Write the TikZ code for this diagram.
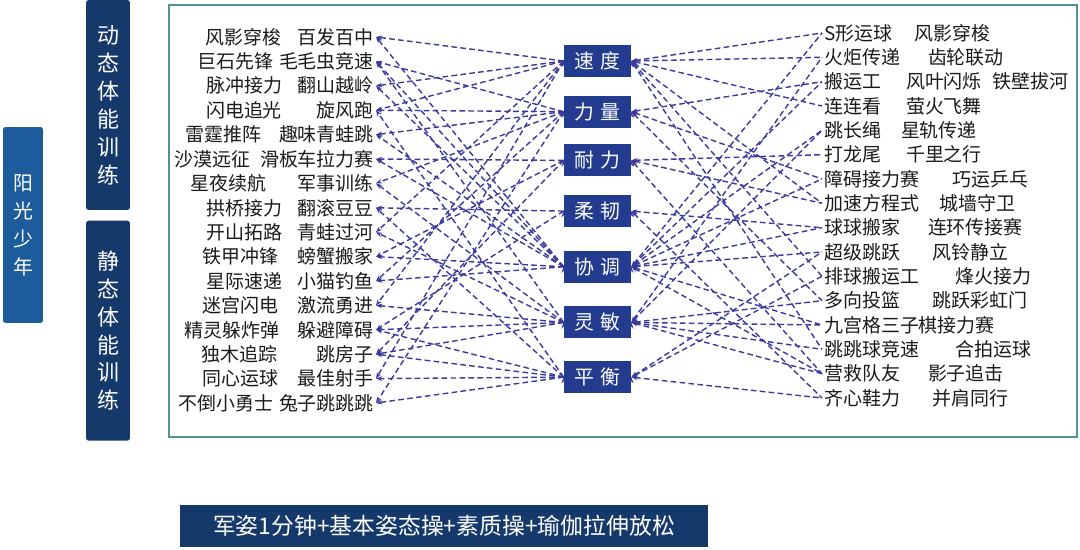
\documentclass[tikz,border=0pt]{standalone}
\usepackage{fontspec}
\setmainfont{Noto Sans CJK SC}
\usetikzlibrary{positioning, arrows.meta}

\definecolor{sunblue}{HTML}{1C5C9C}
\definecolor{navy}{HTML}{16396B}
\definecolor{qblue}{HTML}{233C8F}
\definecolor{frameteal}{HTML}{4E9494}
\definecolor{linkblue}{HTML}{3A3A9E}
\definecolor{ink}{HTML}{1A1A1A}

\begin{document}
\begin{tikzpicture}[x=0.02cm, y=-0.02cm]
    \tikzstyle{side} = [fill=navy, text=white, rounded corners=1.5pt, align=center, inner sep=0pt, minimum width=0.88cm, font=\fontsize{12.5}{15.9}\selectfont];
    \tikzstyle{quality} = [fill=qblue, text=white, minimum width=1.34cm, minimum height=0.64cm, inner sep=0pt, font=\fontsize{11.3}{13}\selectfont];
    \tikzstyle{litem} = [anchor=east, inner sep=1pt, text=ink, font=\fontsize{10.8}{12}\selectfont];
    \tikzstyle{ritem} = [anchor=west, inner sep=1pt, text=ink, font=\fontsize{10.8}{12}\selectfont];
    \tikzstyle{link} = [draw=linkblue, dash pattern=on 3.2pt off 1.9pt, line width=0.8pt];

    \useasboundingbox (0,0) rectangle (1080,549);
    \draw[frameteal, line width=1.1pt] (169,5) rectangle (1077,437);

    \node[side, fill=sunblue, minimum width=0.8cm, minimum height=3.92cm, font=\fontsize{11.3}{15.9}\selectfont] (sun) at (23,225) {阳\\光\\少\\年};
    \node[side, minimum height=4.2cm] (dyn) at (108,105) {动\\态\\体\\能\\训\\练};
    \node[side, minimum height=4.4cm, below = 0.2cm of dyn] (sta) {静\\态\\体\\能\\训\\练};

    \node[quality] (sd) at (597.5,61) {速\hspace{0.12cm}度};
    \node[quality, below = 0.36cm of sd] (ll) {力\hspace{0.12cm}量};
    \node[quality, below = 0.32cm of ll] (nl) {耐\hspace{0.12cm}力};
    \node[quality, below = 0.36cm of nl] (rr) {柔\hspace{0.12cm}韧};
    \node[quality, below = 0.46cm of rr] (xt) {协\hspace{0.12cm}调};
    \node[quality, below = 0.46cm of xt] (lm) {灵\hspace{0.12cm}敏};
    \node[quality, below = 0.44cm of lm] (ph) {平\hspace{0.12cm}衡};

    % dynamic and static games
    \node[litem] (L1) at (376,37) {风影穿梭\hspace{0.34cm}百发百中};
    \node[litem] (L2) at (376,61.4) {巨石先锋\hspace{0.12cm}毛毛虫竞速};
    \node[litem] (L3) at (376,85.8) {脉冲接力\hspace{0.32cm}翻山越岭};
    \node[litem] (L4) at (376,110.2) {闪电追光\hspace{0.7cm}旋风跑};
    \node[litem] (L5) at (376,134.6) {雷霆推阵\hspace{0.36cm}趣味青蛙跳};
    \node[litem] (L6) at (376,159) {沙漠远征\hspace{0.2cm}滑板车拉力赛};
    \node[litem] (L7) at (376,183.4) {星夜续航\hspace{0.64cm}军事训练};
    \node[litem] (L8) at (376,207.8) {拱桥接力\hspace{0.32cm}翻滚豆豆};
    \node[litem] (L9) at (376,232.2) {开山拓路\hspace{0.32cm}青蛙过河};
    \node[litem] (L10) at (376,256.6) {铁甲冲锋\hspace{0.4cm}螃蟹搬家};
    \node[litem] (L11) at (376,281) {星际速递\hspace{0.32cm}小猫钓鱼};
    \node[litem] (L12) at (376,305.4) {迷宫闪电\hspace{0.4cm}激流勇进};
    \node[litem] (L13) at (376,329.8) {精灵躲炸弹\hspace{0.38cm}躲避障碍};
    \node[litem] (L14) at (376,354.2) {独木追踪\hspace{0.8cm}跳房子};
    \node[litem] (L15) at (376,378.6) {同心运球\hspace{0.4cm}最佳射手};
    \node[litem] (L16) at (376,403) {不倒小勇士\hspace{0.12cm}兔子跳跳跳};

    \node[ritem] (R1) at (822,33) {S形运球\hspace{0.44cm}风影穿梭};
    \node[ritem] (R2) at (822,57.3) {火炬传递\hspace{0.56cm}齿轮联动};
    \node[ritem] (R3) at (822,81.7) {搬运工\hspace{0.5cm}风叶闪烁\hspace{0.22cm}铁壁拔河};
    \node[ritem] (R4) at (822,106) {连连看\hspace{0.5cm}萤火飞舞};
    \node[ritem] (R5) at (822,130.3) {跳长绳\hspace{0.4cm}星轨传递};
    \node[ritem] (R6) at (822,154.7) {打龙尾\hspace{0.5cm}千里之行};
    \node[ritem] (R7) at (822,179) {障碍接力赛\hspace{0.68cm}巧运乒乓};
    \node[ritem] (R8) at (822,203.3) {加速方程式\hspace{0.42cm}城墙守卫};
    \node[ritem] (R9) at (822,227.7) {球球搬家\hspace{0.56cm}连环传接赛};
    \node[ritem] (R10) at (822,252) {超级跳跃\hspace{0.66cm}风铃静立};
    \node[ritem] (R11) at (822,276.3) {排球搬运工\hspace{0.74cm}烽火接力};
    \node[ritem] (R12) at (822,300.7) {多向投篮\hspace{0.66cm}跳跃彩虹门};
    \node[ritem] (R13) at (822,325) {九宫格三子棋接力赛};
    \node[ritem] (R14) at (822,349.3) {跳跳球竞速\hspace{0.74cm}合拍运球};
    \node[ritem] (R15) at (822,373.7) {营救队友\hspace{0.56cm}影子追击};
    \node[ritem] (R16) at (822,398) {齐心鞋力\hspace{0.66cm}并肩同行};

    \node[fill=navy, text=white, minimum width=10.56cm, minimum height=0.84cm, inner sep=0pt, font=\fontsize{13}{15}\selectfont] (base) at (444,526) {军姿1分钟+基本姿态操+素质操+瑜伽拉伸放松};

    % qualities to the games on the left
    \draw[link, -{Stealth[length=3.5pt, width=2.6pt]}] (sd.west) edge (L1.east) edge (L3.east) edge (L4.east) edge (L9.east) edge (L12.east) edge (L15.east);
    \draw[link, -{Stealth[length=3.5pt, width=2.6pt]}] (ll.west) edge (L2.east) edge (L4.east) edge (L5.east) edge (L7.east) edge (L11.east) edge (L16.east);
    \draw[link, -{Stealth[length=3.5pt, width=2.6pt]}] (nl.west) edge (L6.east) edge (L10.east) edge (L14.east);
    \draw[link, -{Stealth[length=3.5pt, width=2.6pt]}] (rr.west) edge (L8.east) edge (L13.east);
    \draw[link, -{Stealth[length=3.5pt, width=2.6pt]}] (xt.west) edge (L1.east) edge (L2.east) edge (L3.east) edge (L5.east) edge (L6.east) edge (L10.east) edge (L11.east);
    \draw[link, -{Stealth[length=3.5pt, width=2.6pt]}] (lm.west) edge (L2.east) edge (L7.east) edge (L9.east) edge (L12.east) edge (L13.east) edge (L14.east);
    \draw[link, -{Stealth[length=3.5pt, width=2.6pt]}] (ph.west) edge (L4.east) edge (L8.east) edge (L13.east) edge (L14.east) edge (L15.east) edge (L16.east);

    % games on the right to the qualities
    \draw[link, {Stealth[length=3.5pt, width=2.6pt]}-] (sd.east) edge (R1.west) edge (R2.west) edge (R4.west) edge (R8.west) edge (R11.west) edge (R14.west);
    \draw[link, {Stealth[length=3.5pt, width=2.6pt]}-] (ll.east) edge (R3.west) edge (R7.west) edge (R12.west);
    \draw[link, {Stealth[length=3.5pt, width=2.6pt]}-] (nl.east) edge (R6.west) edge (R8.west) edge (R15.west);
    \draw[link, {Stealth[length=3.5pt, width=2.6pt]}-] (rr.east) edge (R9.west) edge (R16.west);
    \draw[link, {Stealth[length=3.5pt, width=2.6pt]}-] (xt.east) edge (R1.west) edge (R3.west) edge (R5.west) edge (R7.west) edge (R9.west) edge (R10.west) edge (R13.west) edge (R15.west);
    \draw[link, {Stealth[length=3.5pt, width=2.6pt]}-] (lm.east) edge (R2.west) edge (R5.west) edge (R12.west) edge (R13.west) edge (R14.west) edge (R15.west);
    \draw[link, {Stealth[length=3.5pt, width=2.6pt]}-] (ph.east) edge (R10.west) edge (R11.west) edge (R16.west);
\end{tikzpicture}
\end{document}
